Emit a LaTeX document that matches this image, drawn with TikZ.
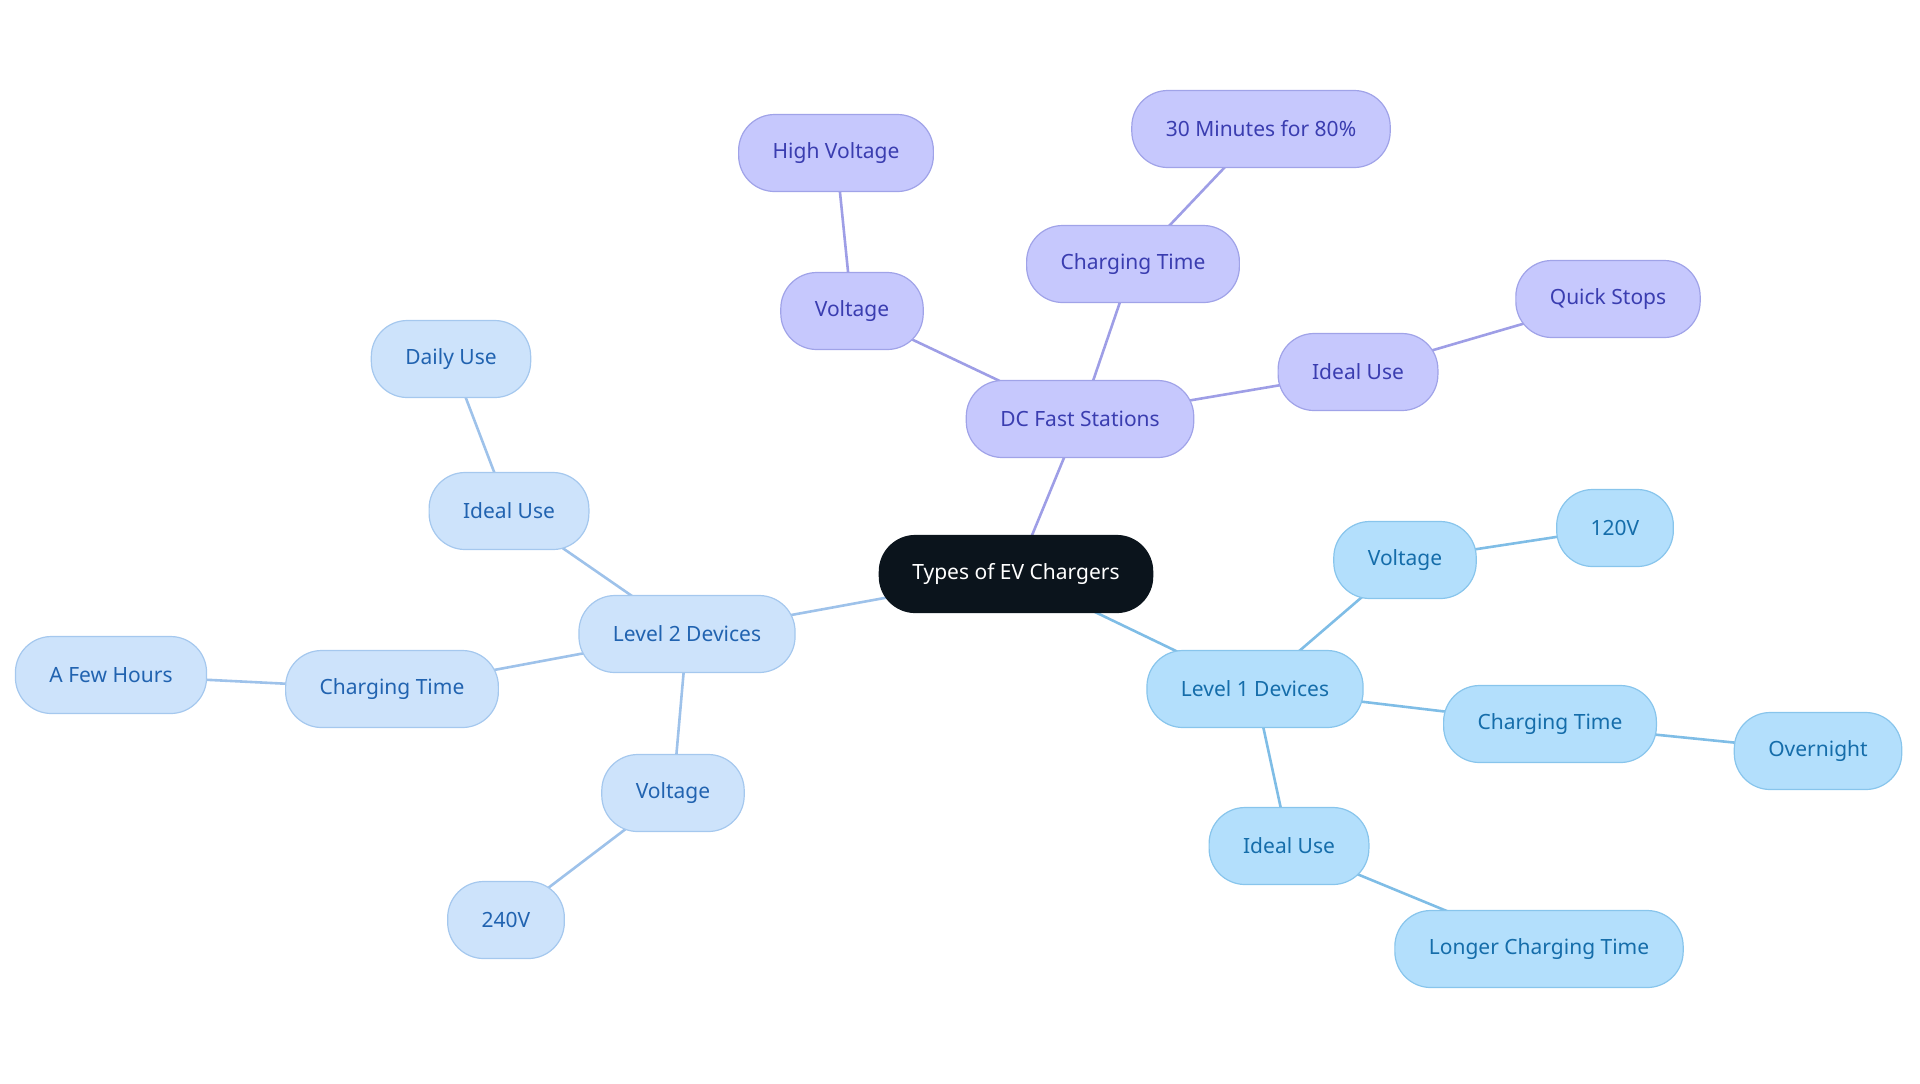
\documentclass[tikz,border=0pt]{standalone}
\usepackage{fontspec}
\usetikzlibrary{backgrounds}
\setmainfont{Noto Sans}
\definecolor{rootfill}{HTML}{0B141C}
\definecolor{dcfill}{HTML}{C6C8FD}
\definecolor{dcdraw}{HTML}{A0A3E8}
\definecolor{dctext}{HTML}{3A3DB0}
\definecolor{dcline}{HTML}{9E9EE6}
\definecolor{ltwofill}{HTML}{CDE3FB}
\definecolor{ltwodraw}{HTML}{A5C8EE}
\definecolor{ltwotext}{HTML}{2163B0}
\definecolor{ltwoline}{HTML}{9EC2EA}
\definecolor{lonefill}{HTML}{B3DFFC}
\definecolor{lonedraw}{HTML}{88C5EC}
\definecolor{lonetext}{HTML}{156DAA}
\definecolor{loneline}{HTML}{7FBDE6}
\begin{document}
\begin{tikzpicture}[x=0.5pt, y=-0.5pt,
    pill/.style={rounded corners=18pt, minimum height=38.5pt, inner xsep=17pt, font=\fontsize{10.5}{12}\selectfont, line width=0.6pt},
    rootpill/.style={pill, fill=rootfill, draw=rootfill, text=white, inner xsep=16.5pt},
    dcpill/.style={pill, fill=dcfill, draw=dcdraw, text=dctext},
    ltwopill/.style={pill, fill=ltwofill, draw=ltwodraw, text=ltwotext},
    lonepill/.style={pill, fill=lonefill, draw=lonedraw, text=lonetext},
    dcedge/.style={draw=dcline, line width=1.3pt},
    ltwoedge/.style={draw=ltwoline, line width=1.3pt},
    loneedge/.style={draw=loneline, line width=1.3pt}]
    \useasboundingbox (0,0) rectangle (1920,1083);

    % Centre
    \node[rootpill] (root) at (1016,574) {Types of EV Chargers};

    % DC fast branch
    \node[dcpill] (dc) at (1080,419) {DC Fast Stations};
    \node[dcpill] (dcvolt) at (852,311) {Voltage};
    \node[dcpill] (dchigh) at (836,153) {High Voltage};
    \node[dcpill] (dctime) at (1133,264) {Charging Time};
    \node[dcpill] (dcthirty) at (1261,129) {30 Minutes for 80\%};
    \node[dcpill] (dcuse) at (1358,372) {Ideal Use};
    \node[dcpill] (dcquick) at (1608,299) {Quick Stops};

    % Level 2 branch
    \node[ltwopill] (ltwo) at (687,634) {Level 2 Devices};
    \node[ltwopill] (ltwouse) at (509,511) {Ideal Use};
    \node[ltwopill] (ltwodaily) at (451,359) {Daily Use};
    \node[ltwopill] (ltwotime) at (392,689) {Charging Time};
    \node[ltwopill] (ltwohours) at (111,675) {A Few Hours};
    \node[ltwopill] (ltwovolt) at (673,793) {Voltage};
    \node[ltwopill] (ltwovalue) at (506,920) {240V};

    % Level 1 branch
    \node[lonepill] (lone) at (1255,689) {Level 1 Devices};
    \node[lonepill] (lonevolt) at (1405,560) {Voltage};
    \node[lonepill] (lonevalue) at (1615,528) {120V};
    \node[lonepill] (lonetime) at (1550,724) {Charging Time};
    \node[lonepill] (lonenight) at (1818,751) {Overnight};
    \node[lonepill] (loneuse) at (1289,846) {Ideal Use};
    \node[lonepill] (lonelong) at (1539,949) {Longer Charging Time};

    % Connectors, behind the nodes
    \begin{scope}[on background layer]
    \path[dcedge] (root.center) -- (dc.center);
    \path[dcedge] (dc.center) -- (dcvolt.center);
    \path[dcedge] (dcvolt.center) -- (dchigh.center);
    \path[dcedge] (dc.center) -- (dctime.center);
    \path[dcedge] (dctime.center) -- (dcthirty.center);
    \path[dcedge] (dc.center) -- (dcuse.center);
    \path[dcedge] (dcuse.center) -- (dcquick.center);

    \path[ltwoedge] (root.center) -- (ltwo.center);
    \path[ltwoedge] (ltwo.center) -- (ltwouse.center);
    \path[ltwoedge] (ltwouse.center) -- (ltwodaily.center);
    \path[ltwoedge] (ltwo.center) -- (ltwotime.center);
    \path[ltwoedge] (ltwotime.center) -- (ltwohours.center);
    \path[ltwoedge] (ltwo.center) -- (ltwovolt.center);
    \path[ltwoedge] (ltwovolt.center) -- (ltwovalue.center);

    \path[loneedge] (root.center) -- (lone.center);
    \path[loneedge] (lone.center) -- (lonevolt.center);
    \path[loneedge] (lonevolt.center) -- (lonevalue.center);
    \path[loneedge] (lone.center) -- (lonetime.center);
    \path[loneedge] (lonetime.center) -- (lonenight.center);
    \path[loneedge] (lone.center) -- (loneuse.center);
    \path[loneedge] (loneuse.center) -- (lonelong.center);
    \end{scope}
\end{tikzpicture}
\end{document}
